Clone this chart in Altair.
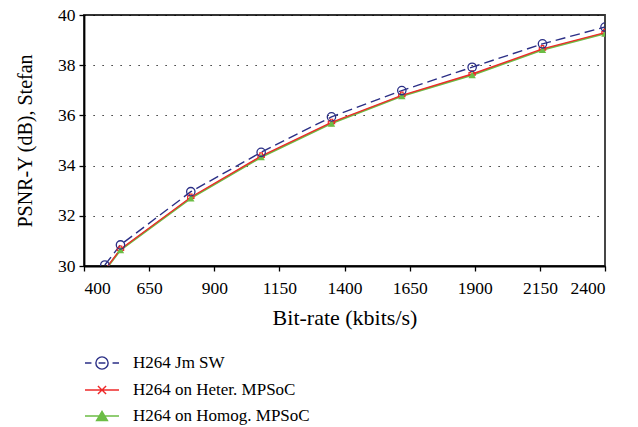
import altair as alt
import pandas as pd

bitrate = [480, 540, 810, 1080, 1350, 1620, 1890, 2160, 2400]
series = ["H264 Jm SW", "H264 on Heter. MPSoC", "H264 on Homog. MPSoC"]
psnr_sw = [30.04, 30.84, 32.96, 34.53, 35.94, 36.99, 37.92, 38.85, 39.52]
psnr_heter = [29.84, 30.67, 32.74, 34.38, 35.72, 36.80, 37.65, 38.65, 39.30]
psnr_homog = [29.82, 30.64, 32.70, 34.34, 35.68, 36.77, 37.61, 38.61, 39.26]
x_ticks = [400, 650, 900, 1150, 1400, 1650, 1900, 2150, 2400]
y_ticks = [30, 32, 34, 36, 38, 40]

colors = ["#2b2f86", "#ee2a2a", "#6cbd45"]
FONT = "Liberation Serif"

rows = []
for name, vals in zip(series, [psnr_sw, psnr_heter, psnr_homog]):
    for b, v in zip(bitrate, vals):
        rows.append({"series": name, "bitrate": b, "psnr": v})
df = pd.DataFrame(rows)

xs = alt.Scale(domain=[400, 2400], nice=False, zero=False)
ys = alt.Scale(domain=[30, 40], nice=False, zero=False)

xenc = alt.X("bitrate:Q", scale=xs,
             axis=alt.Axis(values=x_ticks, grid=False, format="d", title="Bit-rate (kbits/s)",
                           titleFontSize=22, titlePadding=11))
yenc = alt.Y("psnr:Q", scale=ys,
             axis=alt.Axis(values=y_ticks, grid=True, format="d", title="PSNR-Y (dB), Stefan",
                           titleFontSize=20, titlePadding=22))

base = alt.Chart(df).encode(x=xenc, y=yenc)

def sel(i):
    return alt.datum.series == series[i]

line_green = base.transform_filter(sel(2)).mark_line(color=colors[2], strokeWidth=2.0, clip=True)
line_red = base.transform_filter(sel(1)).mark_line(color=colors[1], strokeWidth=1.4, clip=True)
line_blue = base.transform_filter(sel(0)).mark_line(color=colors[0], strokeWidth=1.4,
                                                    strokeDash=[10, 5], clip=True)
pt_red = base.transform_filter(sel(1)).mark_point(shape="cross", color=colors[1], size=40,
                                                  strokeWidth=1.2, clip=True, opacity=1)
pt_green = base.transform_filter(sel(2)).mark_point(shape="triangle-up", color=colors[2], filled=True,
                                                    size=55, clip=True, opacity=1)
pt_blue = base.transform_filter(sel(0)).mark_point(shape="circle", color=colors[0], filled=False,
                                                   size=70, strokeWidth=1.3, clip=True, opacity=1)

circle = "M-0.36,0A0.36,0.36 0 1,0 0.36,0A0.36,0.36 0 1,0 -0.36,0"
leg_paths = [
    "M-1,0H-0.62M-0.2,0H0.2M0.62,0H1" + circle,
    "M-1,0H1M-0.24,-0.24L0.24,0.24M-0.24,0.24L0.24,-0.24",
    "M-1,0H1M0,-0.27L0.32,0.27L-0.32,0.27Z",
]

legend_layer = alt.Chart(df).transform_filter(alt.datum.bitrate < 0).mark_point(
    filled=False, opacity=1, strokeWidth=1.4
).encode(
    x=xenc, y=yenc,
    shape=alt.Shape("series:N", scale=alt.Scale(domain=series, range=leg_paths),
                    legend=alt.Legend(title=None, orient="none", legendX=0, legendY=330,
                                      symbolSize=1156, symbolStrokeWidth=1.4,
                                      labelFont=FONT, labelFontSize=17, labelColor="black",
                                      labelOffset=13, rowPadding=-12, labelLimit=400,
                                      symbolOpacity=1)),
    stroke=alt.Stroke("series:N", scale=alt.Scale(domain=series, range=colors), legend=None),
    fill=alt.Fill("series:N", scale=alt.Scale(domain=series,
                                              range=["transparent", "transparent", colors[2]]),
                  legend=None),
)

chart = alt.layer(
    line_green, line_red, line_blue, pt_red, pt_green, pt_blue, legend_layer
).properties(
    width=521, height=251,
    autosize=alt.AutoSizeParams(type="none"),
    padding={"left": 76, "top": 7, "right": 25, "bottom": 175},
).configure_view(
    stroke="#333333", strokeWidth=1.8
).configure_axis(
    labelFont=FONT, titleFont=FONT, labelFontSize=17.5,
    labelColor="black", titleColor="black", titleFontWeight="normal",
    domainColor="black", domainWidth=1.8, tickColor="black", tickSize=5, tickWidth=1.3,
    gridColor="black", gridDash=[1.2, 7.8], gridWidth=1,
).configure_axisX(
    labelPadding=8
).configure_axisY(
    labelPadding=4
)

chart.save("out.html", embed_options={"renderer": "svg", "actions": False})
